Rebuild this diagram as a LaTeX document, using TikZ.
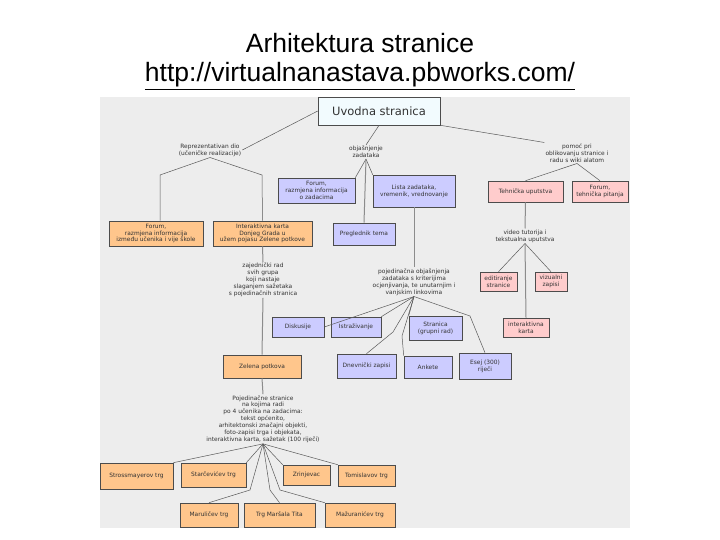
\documentclass[tikz,border=0pt]{standalone}
\usepackage{fontspec}
\setmainfont{Liberation Sans}
\newfontfamily\dv{DejaVu Sans}
\begin{document}
\begin{tikzpicture}[x=1pt,y=-1pt,
  box/.style={draw=black!70,line width=0.6pt,inner sep=1pt,align=center,font=\dv\fontsize{5.9}{6.8}\selectfont,text=black!80},
  pur/.style={box,fill=blue!20!white},
  ora/.style={box,fill=orange!45!white},
  pin/.style={box,fill=red!20!white},
  lab/.style={align=center,font=\dv\fontsize{5.9}{6.9}\selectfont,text=black!80,inner sep=1pt},
  ln/.style={draw=black!65,line width=0.5pt},
  vl/.style={draw=black!45,line width=1pt}]
\useasboundingbox (0,0) rectangle (720,540);
\fill[white] (0,0) rectangle (720,540);
\fill[black!7] (100,97) rectangle (630,528);
\node[font=\fontsize{26.5}{30}\selectfont] (t1) at (360,43) {Arhitektura stranice};
\node[font=\fontsize{26.5}{30}\selectfont] (t2) at (360,76) {\underline{http://virtualnanastava.pbworks.com/}};
% nodes
\node[box,fill=cyan!5,minimum width=122,minimum height=28,font=\dv\fontsize{11.5}{13}\selectfont] (uv) at (379,111) {Uvodna stranica};
\node[lab] (rep) at (210,150) {Reprezentativan dio\\(učeničke realizacije)};
\node[lab] (obj) at (366,152) {objašnjenje\\zadataka};
\node[lab] (pom) at (577,153) {pomoć pri\\oblikovanju stranice i\\radu s wiki alatom};
\node[pur,minimum width=77,minimum height=25] (fr) at (316.5,190.5) {Forum,\\razmjena informacija\\o zadacima};
\node[pur,minimum width=82,minimum height=32] (li) at (414,191) {Lista zadataka,\\vremenik, vrednovanje};
\node[pur,minimum width=62,minimum height=22] (pr) at (364,234) {Preglednik tema};
\node[pin,minimum width=75,minimum height=21] (te) at (525.5,191.5) {Tehnička uputstva};
\node[pin,minimum width=56,minimum height=21] (ft) at (600,191.5) {Forum,\\tehnička pitanja};
\node[ora,minimum width=94,minimum height=25] (fo) at (156,233.5) {Forum,\\razmjena informacija\\između učenika i vije škole};
\node[ora,minimum width=99,minimum height=25] (ik) at (262.5,233.5) {Interaktivna karta\\Donjeg Grada u\\užem pojasu Zelene potkove};
\node[lab] (vid) at (525,236) {video tutorija i\\tekstualna uputstva};
\node[lab] (zaj) at (263,280) {zajednički rad\\svih grupa\\koji nastaje\\slaganjem sažetaka\\s pojedinačnih stranica};
\node[lab] (poj) at (414,282) {pojedinačna objašnjenja\\zadataka s kriterijima\\ocjenjivanja, te unutarnjim i\\vanjskim linkovima};
\node[pin,minimum width=37,minimum height=19] (ed) at (498.5,281.5) {editiranje\\stranice};
\node[pin,minimum width=32,minimum height=19] (vz) at (551,281.5) {vizualni\\zapisi};
\node[pin,minimum width=46,minimum height=19] (ika) at (526,327.5) {interaktivna\\karta};
\node[pur,minimum width=52,minimum height=20] (di) at (298,327) {Diskusije};
\node[pur,minimum width=50,minimum height=20] (is) at (356,327) {Istraživanje};
\node[pur,minimum width=53,minimum height=24] (st) at (435.5,328) {Stranica\\(grupni rad)};
\node[pur,minimum width=59,minimum height=24] (dn) at (366.5,366) {Dnevnički zapisi};
\node[pur,minimum width=48,minimum height=22] (an) at (428,367) {Ankete};
\node[pur,minimum width=52,minimum height=26] (es) at (485,366) {Esej (300)\\riječi};
\node[ora,minimum width=78,minimum height=23] (ze) at (262,366.5) {Zelena potkova};
\node[lab] (ps) at (263,419) {Pojedinačne stranice\\na kojima radi\\po 4 učenika na zadacima:\\tekst općenito,\\arhitektonski značajni objekti,\\foto-zapisi trga i objekata,\\interaktivna karta, sažetak (100 riječi)};
\node[ora,minimum width=73,minimum height=26] (s1) at (136.5,476) {Strossmayerov trg};
\node[ora,minimum width=65,minimum height=24] (s2) at (213.5,475) {Starčevićev trg};
\node[ora,minimum width=47,minimum height=20] (s3) at (306.5,475) {Zrinjevac};
\node[ora,minimum width=57,minimum height=21] (s4) at (366.5,475.5) {Tomislavov trg};
\node[ora,minimum width=58,minimum height=24] (s5) at (209,515) {Maruličev trg};
\node[ora,minimum width=71,minimum height=24] (s6) at (279.5,515) {Trg Maršala Tita};
\node[ora,minimum width=70,minimum height=24] (s7) at (360,515) {Mažuranićev trg};
% connectors
\draw[ln] (uv.west) -- (rep.east);
\draw[ln] (uv.south) -- (obj.north);
\draw[ln] (uv.south east) -- (pom.north west);
\draw[ln] (rep.south) -- (160,175) -- (fo.north -| 160,0);
\draw[ln] (rep.south) -- (262,175) -- (ik.north);
\draw[ln] (obj.south) -- (fr.north east);
\draw[ln] (obj.south) -- (li.north west);
\draw[vl] (obj.south) -- (pr.north);
\draw[ln] (pom.south) -- (te.north);
\draw[ln] (pom.south) -- (ft.north);
\draw[vl] (te.south) -- (vid.north);
\draw[ln] (vid.south) -- (ed.north);
\draw[ln] (vid.south) -- (vz.north);
\draw[vl] (vid.south) -- (ika.north);
\draw[vl] (li.south) -- (poj.north);
\draw[ln] (poj.south) -- (di.east);
\draw[ln] (poj.south) -- (is.north east);
\draw[ln] (poj.south) -- (st.north west);
\draw[ln] (poj.south) -- (393,332) -- (dn.north);
\draw[ln] (poj.south) -- (402,336) -- (an.north west);
\draw[ln] (poj.south) -- (470,316) -- (es.north);
\draw[vl] (ik.south) -- (zaj.north);
\draw[vl] (zaj.south) -- (ze.north);
\draw[vl] (ze.south) -- (ps.north);
\draw[ln] (ps.south) -- (s1.north east);
\draw[ln] (ps.south) -- (s2.north east);
\draw[ln] (ps.south) -- (s3.north west);
\draw[ln] (ps.south) -- (s4.north west);
\draw[ln] (ps.south) -- (250,490) -- (s5.north);
\draw[ln] (ps.south) -- (270,490) -- (s6.north);
\draw[ln] (ps.south) -- (280,490) -- (s7.north west);
\end{tikzpicture}
\end{document}
